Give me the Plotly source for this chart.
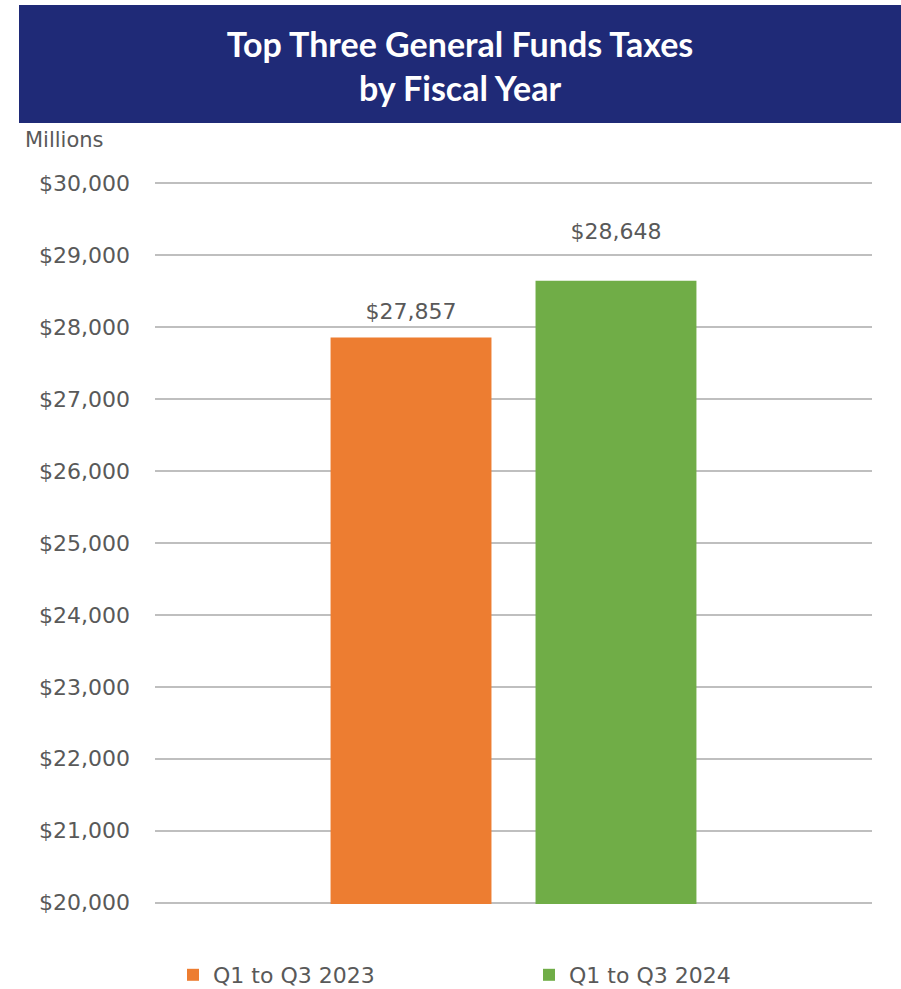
import plotly.graph_objects as go

series_names = ["Q1 to Q3 2023", "Q1 to Q3 2024"]
values = [27857, 28648]
colors = ["#ED7D31", "#70AD47"]
tick_vals = [20000, 21000, 22000, 23000, 24000, 25000, 26000, 27000, 28000, 29000, 30000]
tick_text = ["$20,000", "$21,000", "$22,000", "$23,000", "$24,000", "$25,000",
             "$26,000", "$27,000", "$28,000", "$29,000", "$30,000"]

FONT = "DejaVu Sans"
GRAY = "#595959"

fig = go.Figure()
for name, v, c in zip(series_names, values, colors):
    fig.add_trace(go.Bar(
        x=[name], y=[v], name=name, width=0.785,
        marker=dict(color=c, line=dict(width=0)),
    ))
# data labels above bars (invisible markers set the label offset)
fig.add_trace(go.Scatter(
    x=series_names, y=values, mode="markers+text",
    text=[f"${v:,}" for v in values], textposition="top center",
    marker=dict(size=[19, 56], opacity=0), cliponaxis=False, showlegend=False,
    hoverinfo="skip",
    textfont=dict(family=FONT, size=22, color=GRAY),
))

W, H = 901, 989
L, R, T, B = 155, 29, 182, 85
pw, ph = W - L - R, H - T - B

def px_x(x):
    return (x - L) / pw

def px_y(y):
    return (H - B - y) / ph

fig.add_shape(type="rect", xref="paper", yref="paper",
              x0=px_x(19), x1=px_x(901), y0=px_y(123), y1=px_y(5),
              fillcolor="#1F2A77", line=dict(width=0), layer="below")

fig.update_layout(
    width=W, height=H,
    margin=dict(l=L, r=R, t=T, b=B, autoexpand=False),
    paper_bgcolor="white", plot_bgcolor="white",
    barmode="overlay",
    font=dict(family=FONT, color=GRAY),
    title=dict(text="<b>Top Three General Funds Taxes<br>by Fiscal Year</b>",
               x=(19 + 901) / 2 / W, xanchor="center", y=1 - 57 / H, yanchor="middle",
               font=dict(family="Lato", size=34, color="white")),
    showlegend=True,
    legend=dict(orientation="h", x=px_x(173), xanchor="left", y=px_y(954), yanchor="top",
                entrywidth=311, entrywidthmode="pixels",
                font=dict(family=FONT, size=22, color=GRAY), itemclick=False),
    xaxis=dict(type="category", range=[-1.249, 2.249], showticklabels=False,
               showline=False, showgrid=False, zeroline=False),
    yaxis=dict(range=[19980, 30020], tickvals=tick_vals, ticktext=tick_text,
               showgrid=True, gridcolor="#BFBFBF", gridwidth=2, zeroline=False,
               showline=False, ticks="", ticklabelstandoff=24,
               tickfont=dict(family=FONT, size=22, color=GRAY)),
)

fig.add_annotation(text="Millions", xref="paper", yref="paper",
                   x=px_x(23), y=px_y(140), xanchor="left", yanchor="middle",
                   showarrow=False, font=dict(family=FONT, size=21, color=GRAY))

fig.write_html("out.html")
